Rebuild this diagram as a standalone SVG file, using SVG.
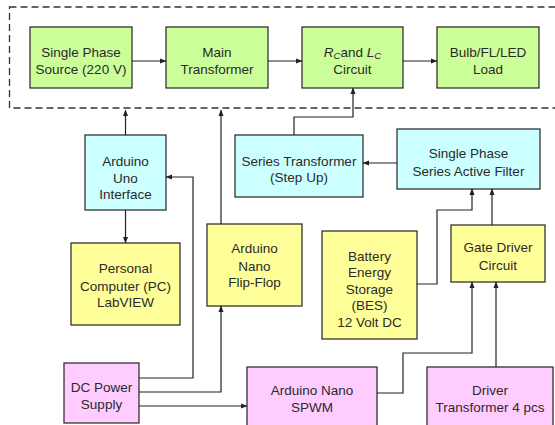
<svg xmlns="http://www.w3.org/2000/svg" width="555" height="425" viewBox="0 0 555 425">
<defs>
<marker id="ah" markerWidth="7" markerHeight="6" refX="6" refY="3" orient="auto" markerUnits="userSpaceOnUse">
<path d="M0,0.5 L6.5,3 L0,5.5 Z" fill="#222"/>
</marker>
<style>
.g{fill:#ccff99;stroke:#333;stroke-width:1.3}
.c{fill:#ccffff;stroke:#333;stroke-width:1.3}
.y{fill:#ffff99;stroke:#333;stroke-width:1.3}
.p{fill:#ffccff;stroke:#333;stroke-width:1.3}
text{font-family:"Liberation Sans",Arial,sans-serif;font-size:13.5px;fill:#2a2a2a;text-anchor:middle}
.w{fill:none;stroke:#222;stroke-width:1.2}
.d{fill:none;stroke:#333;stroke-width:1.3;stroke-dasharray:7 4}
</style>
</defs>
<rect width="555" height="425" fill="#fff"/>
<rect class="d" x="9.5" y="7" width="560" height="101"/>
<g id="source"><rect class="g" x="30" y="27" width="102" height="61"/><text x="81" y="57">Single Phase</text><text x="81" y="74">Source (220 V)</text></g>
<g id="main"><rect class="g" x="166" y="27" width="102" height="61"/><text x="217" y="57">Main</text><text x="217" y="74">Transformer</text></g>
<g id="rclc"><rect class="g" x="302" y="27" width="101" height="61"/><text x="352.5" y="57"><tspan font-style="italic">R</tspan><tspan font-style="italic" font-size="9.5" dy="2">C</tspan><tspan dy="-2">and </tspan><tspan font-style="italic">L</tspan><tspan font-style="italic" font-size="9.5" dy="2">C</tspan></text><text x="352.5" y="74">Circuit</text></g>
<g id="load"><rect class="g" x="437" y="27" width="102" height="61"/><text x="488" y="57">Bulb/FL/LED</text><text x="488" y="74">Load</text></g>
<g id="uno"><rect class="c" x="85" y="135" width="81" height="75"/><text x="125.5" y="166">Arduino</text><text x="125.5" y="183">Uno</text><text x="125.5" y="199">Interface</text></g>
<g id="series"><rect class="c" x="235" y="135" width="128" height="62"/><text x="299" y="166">Series Transformer</text><text x="299" y="182">(Step Up)</text></g>
<g id="filter"><rect class="c" x="397" y="129" width="143" height="60"/><text x="468.5" y="158">Single Phase</text><text x="468.5" y="176">Series Active Filter</text></g>
<g id="pc"><rect class="y" x="71" y="243" width="109" height="82"/><text x="125.5" y="273">Personal</text><text x="125.5" y="291">Computer (PC)</text><text x="125.5" y="307">LabVIEW</text></g>
<g id="nano"><rect class="y" x="207" y="224" width="95" height="82"/><text x="254.5" y="253">Arduino</text><text x="254.5" y="271">Nano</text><text x="254.5" y="287">Flip-Flop</text></g>
<g id="battery"><rect class="y" x="322" y="231" width="95" height="108"/><text x="369.5" y="261">Battery</text><text x="369.5" y="277">Energy</text><text x="369.5" y="294">Storage</text><text x="369.5" y="310">(BES)</text><text x="369.5" y="327">12 Volt DC</text></g>
<g id="gate"><rect class="y" x="451" y="225" width="94" height="57"/><text x="498" y="252">Gate Driver</text><text x="498" y="270">Circuit</text></g>
<g id="dc"><rect class="p" x="64" y="363" width="75" height="60"/><text x="101.5" y="392">DC Power</text><text x="101.5" y="409">Supply</text></g>
<g id="spwm"><rect class="p" x="247" y="367" width="130" height="70"/><text x="312" y="395">Arduino Nano</text><text x="312" y="412">SPWM</text></g>
<g id="driver"><rect class="p" x="427" y="367" width="126" height="70"/><text x="490" y="395">Driver</text><text x="490" y="412">Transformer 4 pcs</text></g>
<g id="connectors">
<path class="w" d="M132,61 H166" marker-end="url(#ah)"/>
<path class="w" d="M268,61 H302" marker-end="url(#ah)"/>
<path class="w" d="M403,61 H437" marker-end="url(#ah)"/>
<path class="w" d="M125.5,135 V110" marker-end="url(#ah)"/>
<path class="w" d="M221,224 V110" marker-end="url(#ah)"/>
<path class="w" d="M294,135 V117 H353 V88" marker-end="url(#ah)"/>
<path class="w" d="M397,163 H363" marker-end="url(#ah)"/>
<path class="w" d="M417,284 H437 V210 H472 V189" marker-end="url(#ah)"/>
<path class="w" d="M492,225 V189" marker-end="url(#ah)"/>
<path class="w" d="M125.5,210 V243" marker-end="url(#ah)"/>
<path class="w" d="M139,378 H193 V177 H166" marker-end="url(#ah)"/>
<path class="w" d="M139,392 H221 V306" marker-end="url(#ah)"/>
<path class="w" d="M139,406 H247" marker-end="url(#ah)"/>
<path class="w" d="M377,393 H403 V353 H472 V282" marker-end="url(#ah)"/>
<path class="w" d="M496,367 V282" marker-end="url(#ah)"/>
</g>
</svg>
